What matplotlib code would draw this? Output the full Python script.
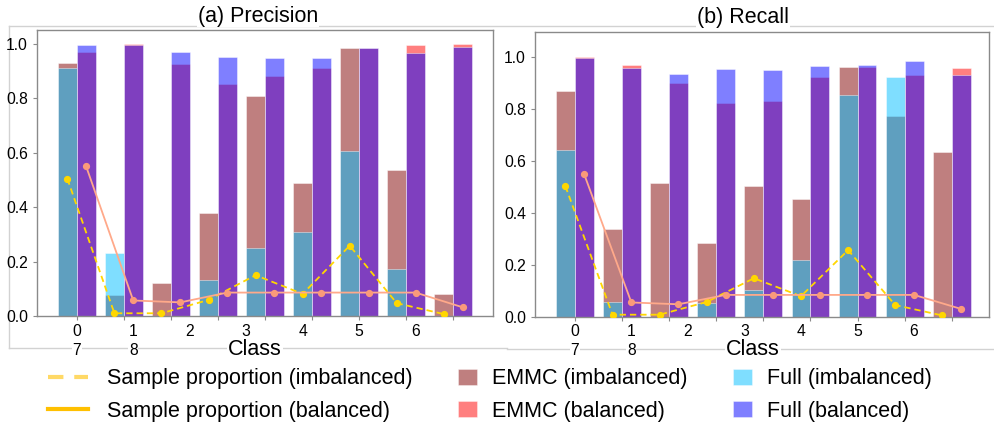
import matplotlib
matplotlib.use("Agg")
import matplotlib.pyplot as plt
from matplotlib.lines import Line2D
from matplotlib.patches import Patch
import matplotlib.transforms as mtransforms

plt.rcParams['font.family'] = ['Liberation Sans', 'DejaVu Sans']

# ---------------- data ----------------
classes = [0, 1, 2, 3, 4, 5, 6, 7, 8]
row1_labels = ['0', '1', '2', '3', '4', '5', '6']
row2_labels = ['7', '8']

prop_imb = [0.504, 0.010, 0.010, 0.059, 0.150, 0.081, 0.258, 0.047, 0.007]
prop_bal = [0.549, 0.057, 0.050, 0.086, 0.086, 0.086, 0.086, 0.086, 0.032]

prec_emmc_imb = [0.929, 0.077, 0.122, 0.379, 0.807, 0.487, 0.984, 0.536, 0.081]
prec_full_imb = [0.912, 0.232, 0.000, 0.132, 0.251, 0.309, 0.605, 0.171, 0.000]
prec_emmc_bal = [0.970, 1.000, 0.927, 0.852, 0.882, 0.909, 0.984, 0.994, 1.000]
prec_full_bal = [0.996, 0.995, 0.970, 0.951, 0.949, 0.949, 0.985, 0.966, 0.988]

rec_emmc_imb = [0.870, 0.338, 0.515, 0.287, 0.505, 0.454, 0.960, 0.774, 0.636]
rec_full_imb = [0.643, 0.060, 0.000, 0.056, 0.105, 0.219, 0.855, 0.923, 0.000]
rec_emmc_bal = [1.000, 0.970, 0.900, 0.825, 0.832, 0.923, 0.960, 0.932, 0.956]
rec_full_bal = [0.998, 0.958, 0.933, 0.954, 0.950, 0.967, 0.970, 0.983, 0.932]

titles = ['(a) Precision', '(b) Recall']
xlabel = 'Class'
legend_labels = ['Sample proportion (imbalanced)', 'Sample proportion (balanced)',
                 'EMMC (imbalanced)', 'EMMC (balanced)',
                 'Full (imbalanced)', 'Full (balanced)']

# ---------------- figure ----------------
W, H = 995, 426
fig = plt.figure(figsize=(W / 100, H / 100), dpi=100)

def fx(px):
    return px / W

def fy(py):
    return 1 - py / H

# light grey outer frame lines (drawn beneath everything else)
grey = '#d2d2d2'
for (x0, y0, x1, y1) in [(9, 25.5, 995, 25.5), (9, 25.5, 9, 348), (9, 348, 507, 348),
                         (507, 349, 995, 349)]:
    fig.add_artist(Line2D([fx(x0), fx(x1)], [fy(y0), fy(y1)], color=grey, lw=1.0,
                          transform=fig.transFigure, zorder=-5))

ax_specs = [
    dict(px=(37, 493), py=(30, 316), ylim=(0, 1.05), title_x=258, title_base=21.7, label_x=255,
         data=(prec_emmc_imb, prec_full_imb, prec_emmc_bal, prec_full_bal)),
    dict(px=(535, 989), py=(32, 317.3), ylim=(0, 1.096), title_x=743, title_base=22.7, label_x=753,
         data=(rec_emmc_imb, rec_full_imb, rec_emmc_bal, rec_full_bal)),
]

w = 0.4
fs_tick = 11.3
fs_big = 15.5
spine_c = '#8a8a8a'
wbox = dict(facecolor='white', edgecolor='none', pad=0.5)

for i, spec in enumerate(ax_specs):
    (l, r), (t, b) = spec['px'], spec['py']
    ax = fig.add_axes([fx(l), fy(b), (r - l) / W, (b - t) / H])
    emmc_imb, full_imb, emmc_bal, full_bal = spec['data']
    xl = [c - w for c in classes]
    ax.bar(xl, emmc_imb, width=w, align='edge', color='maroon', alpha=0.5,
           edgecolor='white', linewidth=0.6, zorder=2)
    ax.bar(xl, full_imb, width=w, align='edge', color='deepskyblue', alpha=0.5,
           edgecolor='white', linewidth=0.6, zorder=2)
    ax.bar(classes, emmc_bal, width=w, align='edge', color='red', alpha=0.5,
           edgecolor='white', linewidth=0.6, zorder=2)
    ax.bar(classes, full_bal, width=w, align='edge', color='blue', alpha=0.5,
           edgecolor='white', linewidth=0.6, zorder=2)

    ax.plot([c - w / 2 for c in classes], prop_imb, linestyle=(0, (3.5, 2.2)), color='#FFD700',
            lw=1.3, marker='o', markersize=4.2, zorder=4)
    ax.plot([c + w / 2 for c in classes], prop_bal, linestyle='-', color='#FFA98A',
            lw=1.3, marker='o', markersize=4.2, markerfacecolor='#FA9A7A',
            markeredgecolor='#FA9A7A', zorder=4)

    ax.set_xlim(-0.845, 8.845 if i == 0 else 8.79)
    ax.set_ylim(*spec['ylim'])
    ax.set_yticks([0.0, 0.2, 0.4, 0.6, 0.8, 1.0])
    ax.set_yticklabels(['0.0', '0.2', '0.4', '0.6', '0.8', '1.0'])
    ax.set_xticks(classes)
    ax.set_xticklabels([''] * len(classes))
    ax.tick_params(axis='both', direction='out', length=3, width=0.8, color=spine_c,
                   labelsize=fs_tick, pad=3.5)
    for s in ax.spines.values():
        s.set_color(spine_c)
        s.set_linewidth(1.0)

    # x tick labels (two rows, as in the reference)
    trans = mtransforms.blended_transform_factory(ax.transData, fig.transFigure)
    for k, lab in enumerate(row1_labels):
        ax.text(1.2 * k, fy(336), lab, transform=trans, ha='center', va='baseline',
                fontsize=fs_tick)
    for k, lab in enumerate(row2_labels):
        ax.text(1.2 * k, fy(355.3), lab, transform=trans, ha='center', va='baseline',
                fontsize=fs_tick, bbox=wbox)

    fig.text(fx(spec['label_x']), fy(355), xlabel, ha='center', va='baseline', fontsize=fs_big,
             bbox=wbox)
    fig.text(fx(spec['title_x']), fy(spec['title_base']), titles[i], ha='center',
             va='baseline', fontsize=fs_big, bbox=wbox)

# ---------------- legends ----------------
line_handles = [Line2D([], [], color='#FFD966', lw=3, linestyle=(0, (3.7, 2.6))),
                Line2D([], [], color='#FFC000', lw=3)]
patch_col2 = [Patch(facecolor='maroon', alpha=0.5, edgecolor='white', lw=0.5),
              Patch(facecolor='red', alpha=0.5, edgecolor='white', lw=0.5)]
patch_col3 = [Patch(facecolor='deepskyblue', alpha=0.5, edgecolor='white', lw=0.5),
              Patch(facecolor='blue', alpha=0.5, edgecolor='white', lw=0.5)]

common = dict(frameon=False, fontsize=fs_big, borderpad=0, borderaxespad=0,
              labelspacing=0.52, loc='center left')
fig.legend(line_handles, legend_labels[0:2], bbox_to_anchor=(fx(48), fy(395)),
           handlelength=1.86, handletextpad=0.88, **common)
fig.legend(patch_col2, legend_labels[2:4], bbox_to_anchor=(fx(458), fy(395)),
           handlelength=0.88, handleheight=0.8, handletextpad=0.7, **common)
fig.legend(patch_col3, legend_labels[4:6], bbox_to_anchor=(fx(733), fy(395)),
           handlelength=0.88, handleheight=0.8, handletextpad=0.7, **common)

fig.savefig('out.png', dpi=100)
